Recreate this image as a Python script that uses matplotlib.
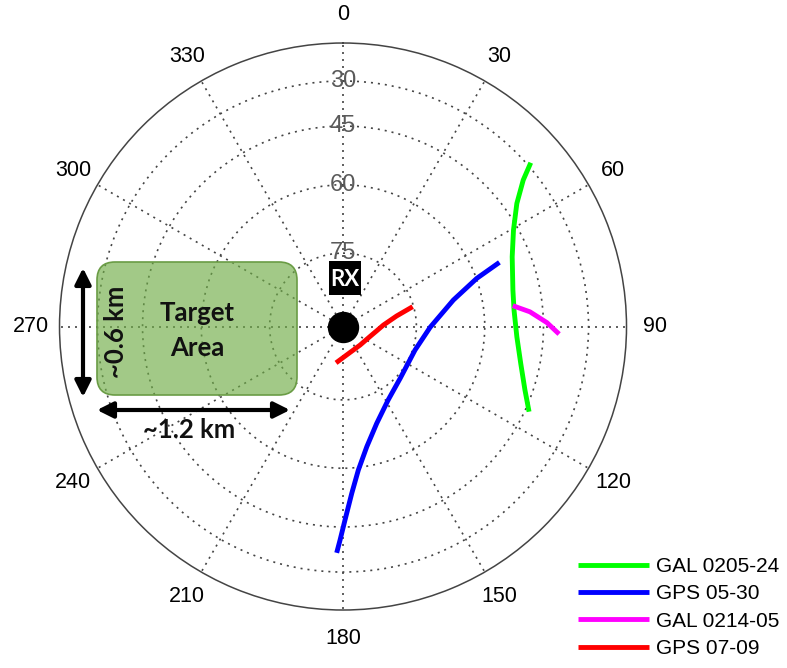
import numpy as np
import matplotlib.pyplot as plt
from matplotlib.patches import FancyBboxPatch, Rectangle

plt.rcParams['font.family'] = ['Liberation Sans', 'DejaVu Sans']

# satellite tracks, azimuth / elevation in degrees
gal_0205_24_az = [48.9, 50.9, 54.7, 60.5, 67.6, 77.9, 84.5, 93.4, 101.7, 109.2, 114.6]
gal_0205_24_el = [28.5, 35.0, 41.3, 46.3, 49.8, 52.2, 52.7, 52.1, 50.2, 47.2, 43.8]

gps_05_30_az = [67.7, 70.2, 76.5, 90.5, 108.1, 132.3, 148.4, 160.8, 168.8,
                173.9, 177.0, 179.4, 180.8, 181.6]
gps_05_30_el = [53.4, 59.9, 66.4, 72.1, 74.5, 74.2, 72.3, 68.8, 64.4,
                59.4, 53.9, 47.0, 41.1, 37.0]

gal_0214_05_az = [83.0, 85.5, 88.9, 92.0]
gal_0214_05_el = [52.9, 48.6, 44.0, 40.3]

gps_07_09_az = [190.9, 172.6, 156.3, 137.4, 110.7, 97.1, 87.9, 78.9, 74.1]
gps_07_09_el = [82.5, 84.2, 84.8, 84.9, 84.2, 83.1, 81.8, 78.9, 75.2]

track_labels = ['GAL 0205-24', 'GPS 05-30', 'GAL 0214-05', 'GPS 07-09']
track_colors = ['#00ff00', '#0000ff', '#ff00ff', '#ff0000']
tracks = [(gal_0205_24_az, gal_0205_24_el), (gps_05_30_az, gps_05_30_el),
          (gal_0214_05_az, gal_0214_05_el), (gps_07_09_az, gps_07_09_el)]

elev_rings = [30, 45, 60, 75]
az_ticks = list(range(0, 360, 30))


def to_r(el):
    return np.cos(np.radians(el))


fig = plt.figure(figsize=(7.87, 6.68), dpi=100)
ax = fig.add_axes([0.0756, 0.0868, 0.7205, 0.8488], projection='polar')
ax.set_theta_zero_location('N')
ax.set_theta_direction(-1)
ax.set_ylim(0, 1)
ax.set_xticks(np.radians(az_ticks))
ax.set_xticklabels([])
ax.set_yticks(to_r(np.array(elev_rings)))
ax.set_yticklabels([])
ax.grid(True, color='#444444', linestyle=(0, (1.2, 3)), linewidth=1.2)
ax.spines['polar'].set_color('#444444')
ax.spines['polar'].set_linewidth(1.1)

for a in az_ticks:
    ax.text(np.radians(a), 1.1, str(a), ha='center', va='center',
            fontsize=15.5, clip_on=False)
for e in elev_rings:
    ax.text(0, to_r(e), str(e), ha='center', va='center',
            fontsize=17, color='#5a5a5a')

for (az, el), lab, col in zip(tracks, track_labels, track_colors):
    ax.plot(np.radians(az), to_r(np.array(el)), color=col, lw=3.5,
            label=lab, solid_capstyle='butt')

# receiver
ax.plot(0, 0, 'o', color='k', ms=21.6, zorder=5)

# overlay in pixel units for the labels and target area sketch
ov = fig.add_axes([0, 0, 1, 1], zorder=3)
ov.set_xlim(0, 787)
ov.set_ylim(668, 0)
ov.axis('off')
ov.patch.set_alpha(0)

ov.add_patch(Rectangle((329, 261), 32, 34, fc='k', ec='none'))
ov.text(345, 279, 'RX', ha='center', va='center', color='white', fontsize=16,
        fontweight='bold', family=['Lato', 'DejaVu Sans'])

box = FancyBboxPatch((97, 262), 200, 133,
                     boxstyle='round,pad=0,rounding_size=18',
                     fc=(0.44, 0.68, 0.28, 0.65), ec='#6a9c45', lw=1.2)
ov.add_patch(box)
bold = dict(fontweight='bold', family=['Lato', 'DejaVu Sans'], color='#111111')
ov.text(197, 313, 'Target', ha='center', va='center', fontsize=18.5, **bold)
ov.text(197, 348, 'Area', ha='center', va='center', fontsize=18.5, **bold)
ov.text(116, 332, '~0.6 km', ha='center', va='center', rotation=90,
        fontsize=18.5, **bold)
ov.text(189, 430, '~1.2 km', ha='center', va='center', fontsize=18.5, **bold)

arrow = dict(arrowstyle='<|-|>', color='k', lw=3, mutation_scale=24,
             shrinkA=0, shrinkB=0)
ov.annotate('', xy=(83, 268), xytext=(83, 397), arrowprops=arrow)
ov.annotate('', xy=(97, 410), xytext=(290, 410), arrowprops=arrow)

fig.legend(loc='upper left', bbox_to_anchor=(578 / 787, 1 - 557 / 668),
           frameon=False, fontsize=15, handlelength=3.4, handletextpad=0.35,
           labelspacing=0.4, borderpad=0, borderaxespad=0)

fig.savefig('out.png', dpi=100)
